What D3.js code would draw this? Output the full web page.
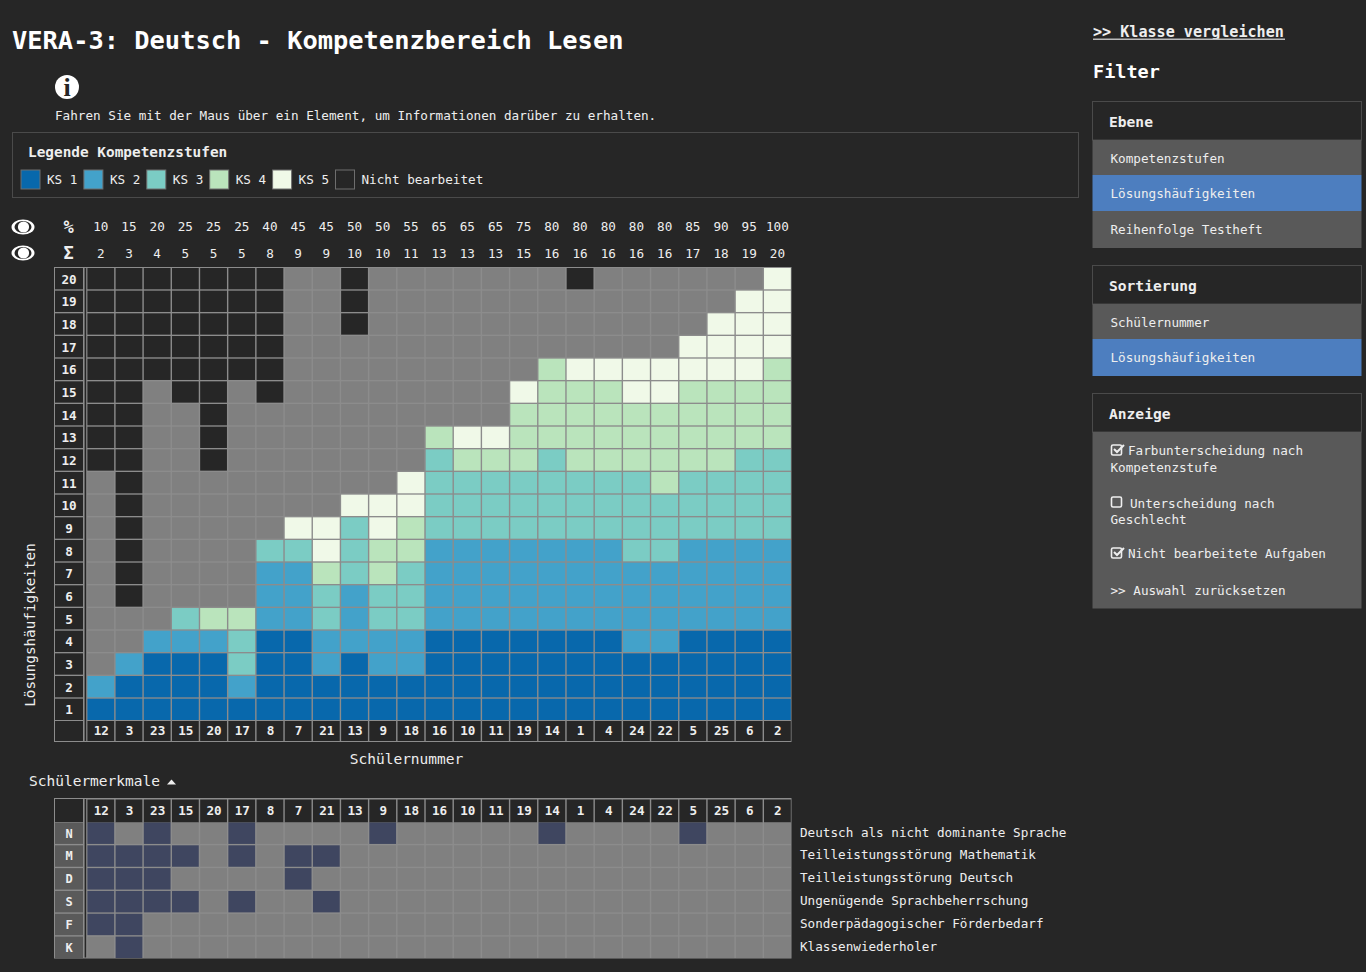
<!DOCTYPE html>
<html>
<head>
<meta charset="utf-8">
<script src="https://cdn.jsdelivr.net/npm/d3@7"></script>
<style>
html, body { margin: 0; background: #262626; }
svg { display: block; }
text { font-family: "DejaVu Sans Mono", monospace; fill: #eeeeee; }
</style>
</head>
<body>
<svg width="1366" height="972"></svg>
<script>
const students = [12, 3, 23, 15, 20, 17, 8, 7, 21, 13, 9, 18, 16, 10, 11, 19, 14, 1, 4, 24, 22, 5, 25, 6, 2];
const percents = [10, 15, 20, 25, 25, 25, 40, 45, 45, 50, 50, 55, 65, 65, 65, 75, 80, 80, 80, 80, 80, 85, 90, 95, 100];
const sums = [2, 3, 4, 5, 5, 5, 8, 9, 9, 10, 10, 11, 13, 13, 13, 15, 16, 16, 16, 16, 16, 17, 18, 19, 20];
const tasks = [20, 19, 18, 17, 16, 15, 14, 13, 12, 11, 10, 9, 8, 7, 6, 5, 4, 3, 2, 1];

// one string per task, one char per student: 1-5 = KS, 0 = not solved, x = not worked on
const levels = [
    "xxxxxxx00x0000000x0000005",
    "xxxxxxx00x000000000000055",
    "xxxxxxx00x000000000000555",
    "xxxxxxx000000000000005555",
    "xxxxxxx000000000455555554",
    "xx0xx0x000000005444554444",
    "xx00x00000000004444444444",
    "xx00x00000004554444444444",
    "xx00x00000003444344444433",
    "0x000000000533333333" + "43333",
    "0x0000000555" + "3333333333333",
    "0x0000055354" + "3333333333333",
    "0x00003353" + "44" + "2222222" + "33" + "2222",
    "0x0000224343" + "2222222222222",
    "0x0000223233" + "2222222222222",
    "000344223233" + "2222222222222",
    "0022231122221111111221111",
    "021113112122" + "1111111111111",
    "2111121111111111111111111",
    "1111111111111111111111111"
];

const featureKeys = ["N", "M", "D", "S", "F", "K"];
const featureLabels = [
    "Deutsch als nicht dominante Sprache",
    "Teilleistungsstörung Mathematik",
    "Teilleistungsstörung Deutsch",
    "Ungenügende Sprachbeherrschung",
    "Sonderpädagogischer Förderbedarf",
    "Klassenwiederholer"
];
const featureStudents = [
    [12, 23, 17, 9, 14, 5],
    [12, 3, 23, 15, 17, 7, 21],
    [12, 3, 23, 7],
    [12, 3, 23, 15, 17, 21],
    [12, 3],
    [3]
];

const legendLabels = ["KS 1", "KS 2", "KS 3", "KS 4", "KS 5", "Nicht bearbeitet"];
const legendKeys = ["1", "2", "3", "4", "5", "x"];

const color = d3.scaleOrdinal()
    .domain(["1", "2", "3", "4", "5", "0", "x"])
    .range(["#0868ac", "#43a2ca", "#7bccc4", "#bae4bc", "#f0f9e8", "#808080", "#262626"]);

const dark = "#262626";
const lineGrey = "#8c8c8c";
const svg = d3.select("svg");

function label(parent, x, y, str, size, weight, anchor) {
    return parent.append("text")
        .attr("x", x)
        .attr("y", y)
        .attr("dy", "0.35em")
        .attr("font-size", size)
        .attr("font-weight", weight || "normal")
        .attr("text-anchor", anchor || "start")
        .text(str);
}

// header
label(svg, 12, 40, "VERA-3: Deutsch - Kompetenzbereich Lesen", 25.4, "bold").style("fill", "#fff");
svg.append("circle").attr("cx", 67).attr("cy", 87).attr("r", 12).attr("fill", "#fff");
svg.append("text").attr("x", 67).attr("y", 96).attr("text-anchor", "middle")
    .attr("font-size", 26).attr("font-weight", "bold")
    .style("font-family", "'Liberation Serif', serif").style("fill", dark).text("i");
label(svg, 55, 115.5, "Fahren Sie mit der Maus über ein Element, um Informationen darüber zu erhalten.", 12.65);

// legend
svg.append("rect").attr("x", 12.5).attr("y", 132.5).attr("width", 1066).attr("height", 65)
    .attr("fill", "none").attr("stroke", "#4a4a4a");
label(svg, 28, 152, "Legende Kompetenzstufen", 14.4, "bold");
const legendX = d3.scalePoint().domain(legendKeys).range([21, 335.5]);
const legend = svg.selectAll(".legend").data(legendKeys).join("g")
    .attr("transform", d => `translate(${legendX(d)},170)`);
legend.append("rect").attr("width", 19).attr("height", 19)
    .attr("fill", d => color(d)).attr("stroke", "#6e6e6e");
legend.append("text").attr("x", 26).attr("y", 10).attr("dy", "0.35em")
    .attr("font-size", 12.65).text((d, i) => legendLabels[i]);

// shared scales
const x = d3.scaleBand().domain(students).range([87.4, 790.8]).paddingInner(0.05);
const y = d3.scaleBand().domain(tasks).range([268, 720]).paddingInner(0.06);
const yFeature = d3.scaleBand().domain(featureKeys).range([822.5, 958]).paddingInner(0.06);

function eye(cy) {
    const g = svg.append("g").attr("transform", `translate(23,${cy})`);
    g.append("ellipse").attr("rx", 11.5).attr("ry", 7.5).attr("fill", "#fff");
    g.append("ellipse").attr("rx", 8.5).attr("ry", 6).attr("fill", dark);
    g.append("circle").attr("cx", 0.5).attr("r", 5.6).attr("fill", "#fff");
}
eye(227);
eye(253);
label(svg, 68.5, 227, "%", 17, "bold", "middle");
label(svg, 68.5, 253, "Σ", 17, "bold", "middle");

function topRow(cy, values) {
    const g = svg.append("g").attr("transform", `translate(0,${cy})`)
        .call(d3.axisTop(x).tickSize(0).tickPadding(0).tickFormat((d, i) => values[i]));
    g.select(".domain").remove();
    g.selectAll("text").attr("y", 0).attr("dy", "0.35em")
        .attr("font-size", 12.65).style("font-family", "'DejaVu Sans Mono', monospace");
}
topRow(227, percents);
topRow(253.5, sums);

// draws the frame, the row label column and the separator of a table
function tableFrame(top, bottom) {
    svg.append("rect").attr("x", 54).attr("y", top).attr("width", 737.5).attr("height", bottom - top)
        .attr("fill", lineGrey);
    svg.append("rect").attr("x", 84.6).attr("y", top + 1).attr("width", 1.6).attr("height", bottom - top - 2)
        .attr("fill", dark);
}

function studentAxis(cy, h) {
    svg.append("g").selectAll("rect").data(students).join("rect")
        .attr("x", d => x(d)).attr("y", cy - h / 2)
        .attr("width", x.bandwidth()).attr("height", h).attr("fill", dark);
    const g = svg.append("g").attr("transform", `translate(0.5,${cy})`)
        .call(d3.axisBottom(x).tickSize(0));
    g.select(".domain").remove();
    g.selectAll("text").attr("y", 0).attr("dy", "0.35em").attr("font-size", 12.65)
        .attr("font-weight", "bold")
        .style("font-family", "'DejaVu Sans Mono', monospace");
}

// main grid
tableFrame(267, 742);
const cells = tasks.flatMap((t, r) => students.map((s, c) => ({ t, s, k: levels[r][c] })));
svg.append("g").selectAll("rect").data(cells).join("rect")
    .attr("x", d => x(d.s))
    .attr("y", d => y(d.t))
    .attr("width", x.bandwidth())
    .attr("height", y.bandwidth())
    .attr("fill", d => color(d.k));
svg.append("g").selectAll("rect").data(tasks).join("rect")
    .attr("x", 55).attr("y", d => y(d)).attr("width", 28).attr("height", y.bandwidth()).attr("fill", dark);
const rowAxis = svg.append("g").attr("transform", "translate(69,1)")
    .call(d3.axisLeft(y).tickSize(0));
rowAxis.select(".domain").remove();
rowAxis.selectAll("text").attr("x", 0).attr("text-anchor", "middle").attr("font-size", 12.65)
    .attr("font-weight", "bold")
    .style("font-family", "'DejaVu Sans Mono', monospace");
svg.append("rect").attr("x", 55).attr("y", 721).attr("width", 28).attr("height", 20).attr("fill", dark);
studentAxis(731, 20);

label(svg, 406.5, 759, "Schülernummer", 14.5, "normal", "middle");
label(svg, 0, 0, "Lösungshäufigkeiten", 14.3, "normal", "middle")
    .attr("transform", "translate(30,625) rotate(-90)");

// student features
label(svg, 29, 781, "Schülermerkmale", 14.5);
svg.append("path").attr("d", "M167,784.5L176,784.5L171.5,779.5Z").attr("fill", "#eee");
tableFrame(798, 958.5);
svg.append("rect").attr("x", 55).attr("y", 799).attr("width", 28).attr("height", 23).attr("fill", dark);
studentAxis(811, 23);
const featureCells = featureKeys.flatMap((k, r) =>
    students.map(s => ({ k, s, on: featureStudents[r].includes(s) })));
svg.append("g").selectAll("rect").data(featureCells).join("rect")
    .attr("x", d => x(d.s))
    .attr("y", d => yFeature(d.k))
    .attr("width", x.bandwidth())
    .attr("height", yFeature.bandwidth())
    .attr("fill", d => d.on ? "#3f4660" : "#808080");
svg.append("g").selectAll("rect").data(featureKeys).join("rect")
    .attr("x", 55).attr("y", d => yFeature(d)).attr("width", 28).attr("height", yFeature.bandwidth())
    .attr("fill", "#5a5a5a");
const featureAxis = svg.append("g").attr("transform", "translate(69,0.5)")
    .call(d3.axisLeft(yFeature).tickSize(0));
featureAxis.select(".domain").remove();
featureAxis.selectAll("text").attr("x", 0).attr("text-anchor", "middle").attr("font-size", 12)
    .attr("font-weight", "bold").style("font-family", "'DejaVu Sans Mono', monospace");
svg.append("g").selectAll("text").data(featureKeys).join("text")
    .attr("x", 800)
    .attr("y", d => yFeature(d) + yFeature.bandwidth() / 2 - 1)
    .attr("dy", "0.35em")
    .attr("font-size", 12.65)
    .text((d, i) => featureLabels[i]);

// filter sidebar
label(svg, 1093, 32, ">> Klasse vergleichen", 15.1, "bold");
svg.append("rect").attr("x", 1093).attr("y", 38.5).attr("width", 192).attr("height", 1.5).attr("fill", "#bbb");
label(svg, 1093, 72, "Filter", 18.5, "bold").style("fill", "#fff");

function panelHead(top, bottom, title) {
    svg.append("rect").attr("x", 1092.5).attr("y", top).attr("width", 269).attr("height", bottom - top)
        .attr("fill", dark).attr("stroke", "#4a4a4a");
    label(svg, 1109, (top + bottom) / 2 + 1, title, 14.6, "bold");
}
function panelItem(top, bottom, str, active, shift) {
    svg.append("rect").attr("x", 1092.5).attr("y", top).attr("width", 269).attr("height", bottom - top)
        .attr("fill", active ? "#4d7ebf" : "#595959");
    label(svg, 1110.5, (top + bottom) / 2 + (shift || 0), str, 12.65);
}
panelHead(101.5, 140, "Ebene");
panelItem(140, 175, "Kompetenzstufen", false, 1);
panelItem(175, 211, "Lösungshäufigkeiten", true, 1);
panelItem(211, 248, "Reihenfolge Testheft", false);

panelHead(265.5, 304, "Sortierung");
panelItem(304, 339, "Schülernummer", false, 1);
panelItem(339, 376, "Lösungshäufigkeiten", true);

panelHead(393.5, 432, "Anzeige");
svg.append("rect").attr("x", 1092.5).attr("y", 432).attr("width", 269).attr("height", 176.5).attr("fill", "#595959");

function checkbox(cy, checked) {
    svg.append("rect").attr("x", 1111.5).attr("y", cy - 5).attr("width", 10).attr("height", 10).attr("rx", 1.5)
        .attr("fill", "none").attr("stroke", "#eee").attr("stroke-width", 1.6);
    if (checked) {
        svg.append("path").attr("d", `M1114,${cy - 1}L1117,${cy + 2}L1124,${cy - 5}`)
            .attr("fill", "none").attr("stroke", "#eee").attr("stroke-width", 2);
    }
}
checkbox(450, true);
label(svg, 1128, 451, "Farbunterscheidung nach", 12.65);
label(svg, 1110.5, 467.5, "Kompetenzstufe", 12.65);
checkbox(502, false);
label(svg, 1130, 503.5, "Unterscheidung nach", 12.65);
label(svg, 1110.5, 519.5, "Geschlecht", 12.65);
checkbox(553, true);
label(svg, 1128, 554, "Nicht bearbeitete Aufgaben", 12.65);
label(svg, 1110.5, 590.5, ">> Auswahl zurücksetzen", 12.65);
</script>
</body>
</html>
